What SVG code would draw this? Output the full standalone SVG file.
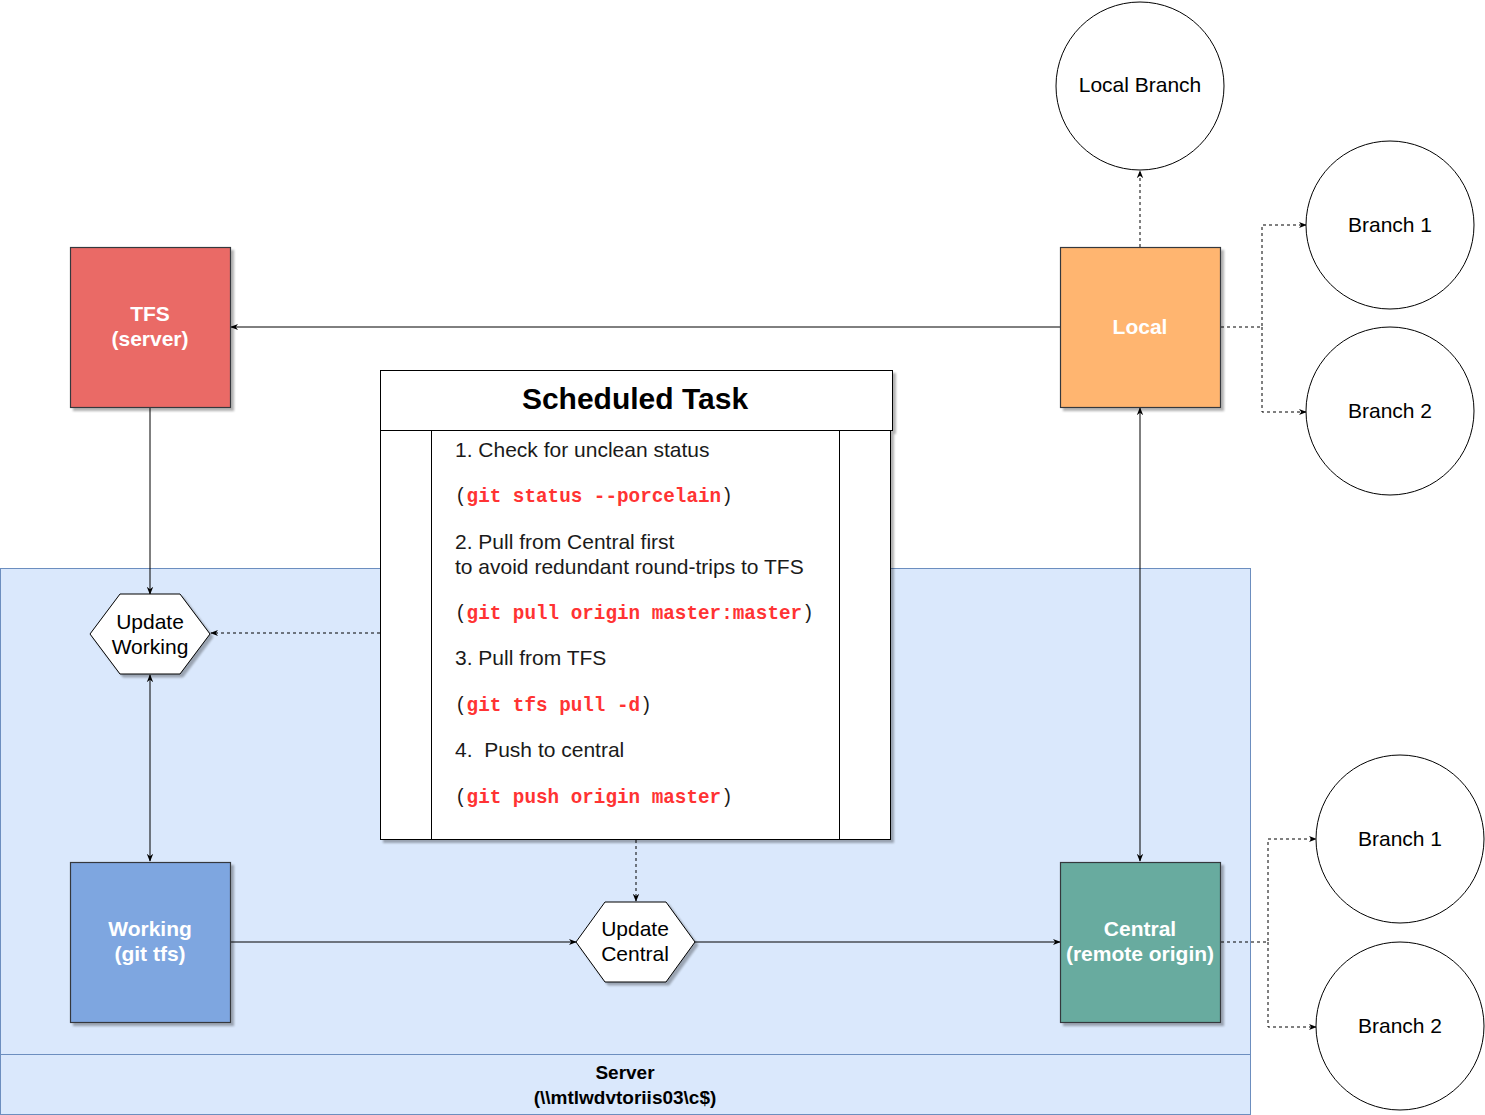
<svg xmlns="http://www.w3.org/2000/svg" width="1485" height="1115" viewBox="0 0 1485 1115">
<style>
.lbl{font-family:"Liberation Sans",Arial,sans-serif;font-size:21px;fill:#000;text-anchor:middle}
.nlbl{font-family:"Liberation Sans",Arial,sans-serif;font-size:21px;font-weight:bold;fill:#fff;text-anchor:middle}
.body{font-family:"Liberation Sans",Arial,sans-serif;font-size:21px;fill:#1a1a1a}
.code{font-family:"Liberation Mono","DejaVu Sans Mono",monospace;font-size:19.3px;font-weight:bold;fill:#ff3333}
.par{font-family:"Liberation Mono","DejaVu Sans Mono",monospace;font-size:19.3px;fill:#1a1a1a}
.box{stroke:#36393d;stroke-width:1.2}
.circ{fill:#fff;stroke:#000;stroke-width:1}
.hex{fill:#fff;stroke:#000;stroke-width:1}
.edge{fill:none;stroke:#000;stroke-width:1}
.dash{stroke-dasharray:3 3}
</style>
<defs>
<filter id="sh" x="-10%" y="-10%" width="130%" height="130%">
<feGaussianBlur in="SourceAlpha" stdDeviation="1"/>
<feOffset dx="3" dy="3" result="o"/>
<feComponentTransfer><feFuncA type="linear" slope="0.3"/></feComponentTransfer>
<feMerge><feMergeNode/><feMergeNode in="SourceGraphic"/></feMerge>
</filter>
<marker id="ar" viewBox="0 0 10 10" refX="9" refY="5" markerWidth="8" markerHeight="8" markerUnits="userSpaceOnUse" orient="auto-start-reverse">
<path d="M0,1 L10,5 L0,9 L3,5 Z" fill="#000"/>
</marker>
</defs>

<g id="server">
<rect x="0.5" y="568.5" width="1250" height="546" fill="#dae8fc" stroke="#6c8ebf" stroke-width="1"/>
<line x1="0.5" y1="1054.5" x2="1250.5" y2="1054.5" stroke="#6c8ebf" stroke-width="1"/>
<text class="lbl" x="625" y="1079" font-weight="bold" style="font-size:19px">Server</text>
<text class="lbl" x="625" y="1104" font-weight="bold" style="font-size:19px">(\\mtlwdvtoriis03\c$)</text>
</g>

<g id="connectors">
<line class="edge" x1="1060" y1="327" x2="231" y2="327" marker-end="url(#ar)"/>
<line class="edge" x1="150" y1="407" x2="150" y2="594" marker-end="url(#ar)"/>
<line class="edge" x1="150" y1="675" x2="150" y2="861" marker-start="url(#ar)" marker-end="url(#ar)"/>
<line class="edge dash" x1="380" y1="633" x2="211" y2="633" marker-end="url(#ar)" stroke="#333"/>
<line class="edge dash" x1="636" y1="840" x2="636" y2="901" marker-end="url(#ar)"/>
<line class="edge" x1="231" y1="942" x2="576" y2="942" marker-end="url(#ar)"/>
<line class="edge" x1="695" y1="942" x2="1060" y2="942" marker-end="url(#ar)"/>
<line class="edge" x1="1140" y1="861" x2="1140" y2="408" marker-start="url(#ar)" marker-end="url(#ar)"/>
<line class="edge dash" x1="1140" y1="247" x2="1140" y2="171" marker-end="url(#ar)"/>
<polyline class="edge dash" points="1221,327 1262,327 1262,225 1306,225" marker-end="url(#ar)"/>
<polyline class="edge dash" points="1262,327 1262,412 1306,412" marker-end="url(#ar)"/>
<polyline class="edge dash" points="1221,942 1268,942 1268,839 1316,839" marker-end="url(#ar)"/>
<polyline class="edge dash" points="1268,942 1268,1027 1316,1027" marker-end="url(#ar)"/>
</g>

<g id="tfs">
<rect class="box" x="70.5" y="247.5" width="160" height="160" fill="#ea6b66" stroke="#666" filter="url(#sh)"/>
<text class="nlbl" x="150" y="321">TFS</text>
<text class="nlbl" x="150" y="346">(server)</text>
</g>

<g id="local">
<rect class="box" x="1060.5" y="247.5" width="160" height="160" fill="#ffb570" filter="url(#sh)"/>
<text class="nlbl" x="1140" y="334">Local</text>
</g>

<g id="working">
<rect class="box" x="70.5" y="862.5" width="160" height="160" fill="#7ea6e0" filter="url(#sh)"/>
<text class="nlbl" x="150" y="936">Working</text>
<text class="nlbl" x="150" y="961">(git tfs)</text>
</g>

<g id="central">
<rect class="box" x="1060.5" y="862.5" width="160" height="160" fill="#67ab9f" filter="url(#sh)"/>
<text class="nlbl" x="1140" y="936">Central</text>
<text class="nlbl" x="1140" y="961">(remote origin)</text>
</g>

<g id="update-working">
<polygon class="hex" points="90,634 120,594 180,594 210,634 180,674 120,674" filter="url(#sh)"/>
<text class="lbl" x="150" y="629">Update</text>
<text class="lbl" x="150" y="654">Working</text>
</g>

<g id="update-central">
<polygon class="hex" points="576,942 605,902 666,902 695,942 666,982 605,982" filter="url(#sh)"/>
<text class="lbl" x="635" y="936">Update</text>
<text class="lbl" x="635" y="961">Central</text>
</g>

<g id="local-branch">
<circle class="circ" cx="1140" cy="86" r="84"/>
<text class="lbl" x="1140" y="92">Local Branch</text>
</g>
<g id="local-branch1">
<circle class="circ" cx="1390" cy="225" r="84"/>
<text class="lbl" x="1390" y="232">Branch 1</text>
</g>
<g id="local-branch2">
<circle class="circ" cx="1390" cy="411" r="84"/>
<text class="lbl" x="1390" y="418">Branch 2</text>
</g>
<g id="central-branch1">
<circle class="circ" cx="1400" cy="839" r="84"/>
<text class="lbl" x="1400" y="846">Branch 1</text>
</g>
<g id="central-branch2">
<circle class="circ" cx="1400" cy="1026" r="84"/>
<text class="lbl" x="1400" y="1033">Branch 2</text>
</g>

<g id="scheduled-task">
<g filter="url(#sh)">
<rect x="380.5" y="370.5" width="512" height="60" fill="#fff" stroke="#000" stroke-width="1"/>
<rect x="380.5" y="430.5" width="510" height="409" fill="#fff" stroke="#000" stroke-width="1"/>
</g>
<line x1="431.5" y1="430.5" x2="431.5" y2="839.5" stroke="#000" stroke-width="1"/>
<line x1="839.5" y1="430.5" x2="839.5" y2="839.5" stroke="#000" stroke-width="1"/>
<text class="lbl" x="635" y="409" font-weight="bold" style="font-size:30px">Scheduled Task</text>
<text class="body" x="455" y="457">1. Check for unclean status</text>
<text class="par" x="455" y="502">(<tspan class="code">git status --porcelain</tspan>)</text>
<text class="body" x="455" y="549">2. Pull from Central first</text>
<text class="body" x="455" y="574">to avoid redundant round-trips to TFS</text>
<text class="par" x="455" y="619">(<tspan class="code">git pull origin master:master</tspan>)</text>
<text class="body" x="455" y="665">3. Pull from TFS</text>
<text class="par" x="455" y="711">(<tspan class="code">git tfs pull -d</tspan>)</text>
<text class="body" x="455" y="757" xml:space="preserve">4.  Push to central</text>
<text class="par" x="455" y="803">(<tspan class="code">git push origin master</tspan>)</text>
</g>
</svg>
